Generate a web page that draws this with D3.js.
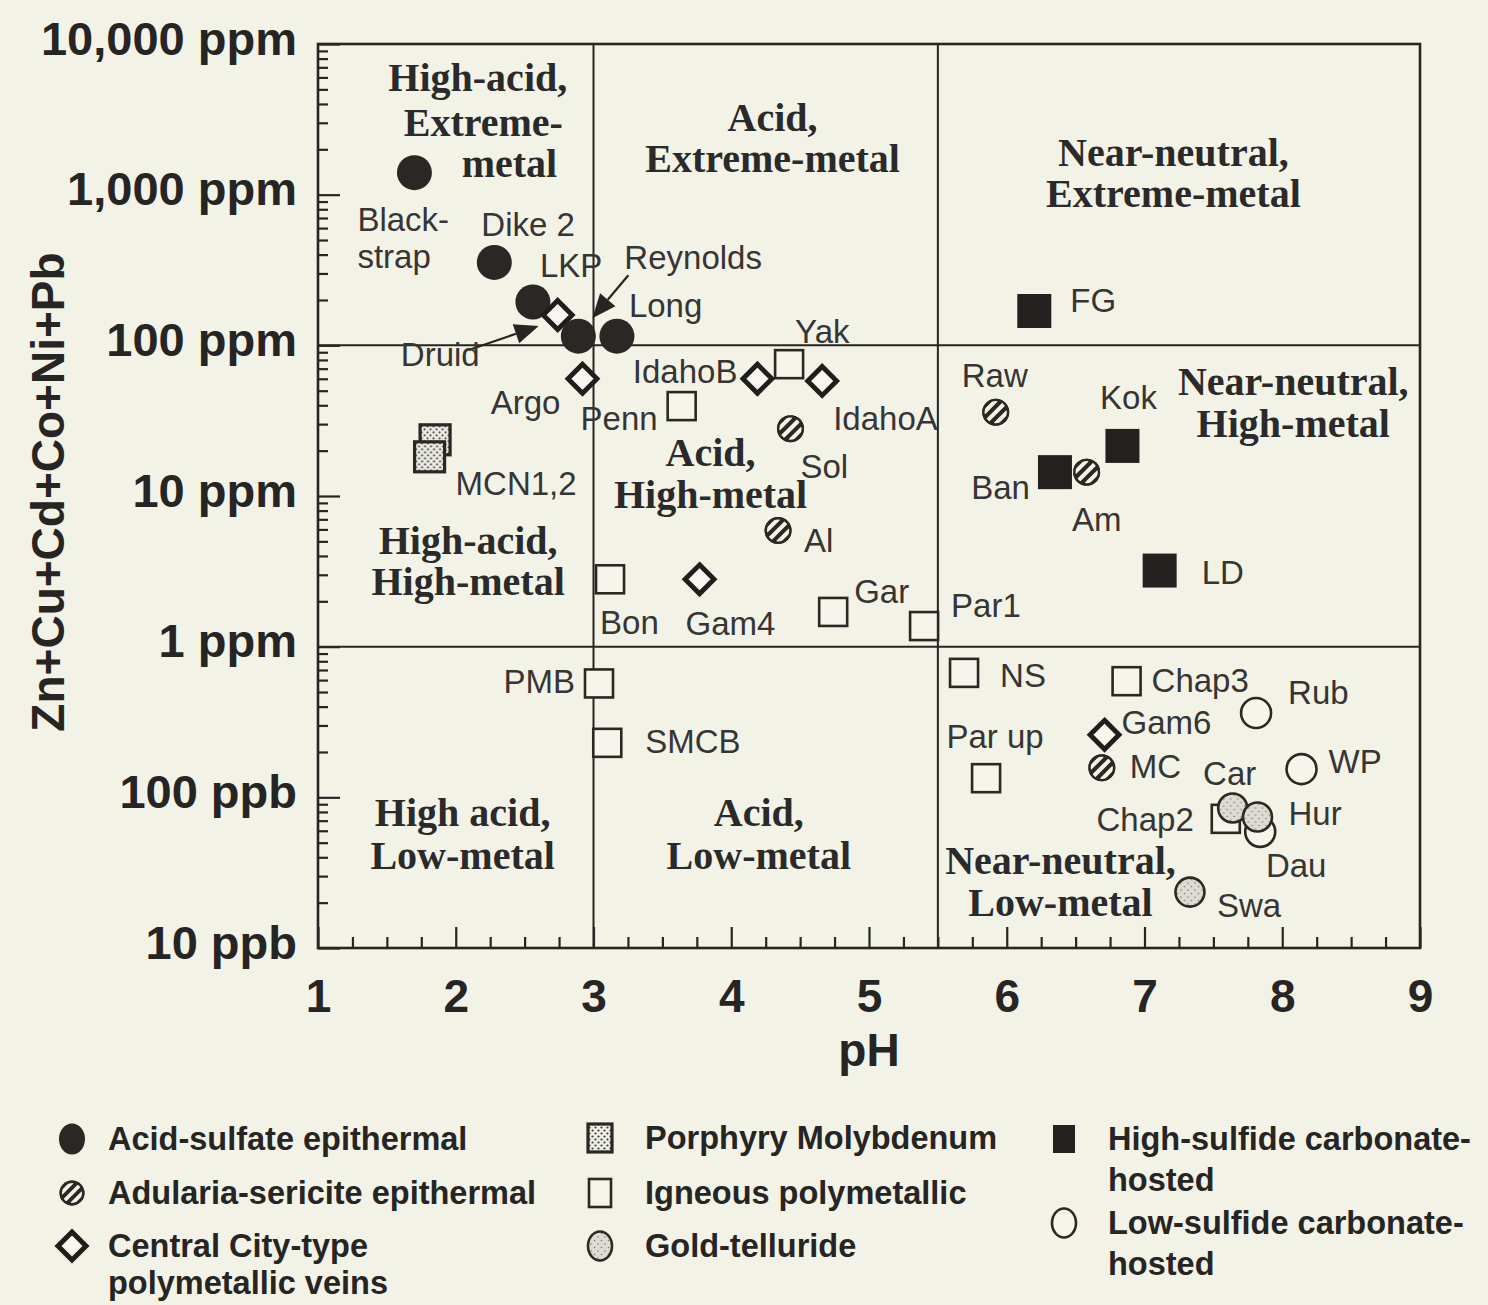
<!DOCTYPE html>
<html>
<head>
<meta charset="utf-8">
<script src="https://cdn.jsdelivr.net/npm/d3@7"></script>
<style>
  html, body { margin: 0; padding: 0; background: #f3f2e6; }
  svg { display: block; }
</style>
</head>
<body>
<svg id="chart" width="1488" height="1305"></svg>
<script>
// ---- Sample sites by deposit type: site name, pH, dissolved Zn+Cu+Cd+Co+Ni+Pb (ppm) ----
const acidSulfate = [
  { site: "Blackstrap", pH: 1.70, ppm: 1400 },
  { site: "Dike 2",     pH: 2.28, ppm: 355 },
  { site: "LKP",        pH: 2.56, ppm: 194 },
  { site: "Reynolds",   pH: 2.89, ppm: 115 },
  { site: "Long",       pH: 3.17, ppm: 115 }
];
const adulariaSericite = [
  { site: "Sol", pH: 4.43, ppm: 28 },
  { site: "Al",  pH: 4.34, ppm: 5.9 },
  { site: "Raw", pH: 5.92, ppm: 36 },
  { site: "Am",  pH: 6.58, ppm: 14.4 },
  { site: "MC",  pH: 6.69, ppm: 0.157 }
];
const centralCity = [
  { site: "Druid",  pH: 2.74, ppm: 159 },
  { site: "Argo",   pH: 2.92, ppm: 60 },
  { site: "IdahoB", pH: 4.19, ppm: 60 },
  { site: "IdahoA", pH: 4.66, ppm: 58 },
  { site: "Gam4",   pH: 3.77, ppm: 2.8 },
  { site: "Gam6",   pH: 6.71, ppm: 0.26 }
];
const porphyryMo = [
  { site: "MCN1", pH: 1.85, ppm: 23.6 },
  { site: "MCN2", pH: 1.81, ppm: 18.2 }
];
const igneousPoly = [
  { site: "Yak",    pH: 4.42, ppm: 75 },
  { site: "Penn",   pH: 3.64, ppm: 39.5 },
  { site: "Bon",    pH: 3.12, ppm: 2.8 },
  { site: "Gar",    pH: 4.74, ppm: 1.7 },
  { site: "Par1",   pH: 5.40, ppm: 1.37 },
  { site: "PMB",    pH: 3.04, ppm: 0.57 },
  { site: "SMCB",   pH: 3.10, ppm: 0.23 },
  { site: "NS",     pH: 5.69, ppm: 0.67 },
  { site: "Chap3",  pH: 6.87, ppm: 0.59 },
  { site: "Par up", pH: 5.85, ppm: 0.134 },
  { site: "Chap2",  pH: 7.59, ppm: 0.072 }
];
const goldTelluride = [
  { site: "Car", pH: 7.64, ppm: 0.085 },
  { site: "Hur", pH: 7.82, ppm: 0.074 },
  { site: "Swa", pH: 7.33, ppm: 0.0235 }
];
const highSulfideCarb = [
  { site: "FG",  pH: 6.20, ppm: 169 },
  { site: "Kok", pH: 6.84, ppm: 21.5 },
  { site: "Ban", pH: 6.35, ppm: 14.4 },
  { site: "LD",  pH: 7.11, ppm: 3.2 }
];
const lowSulfideCarb = [
  { site: "Rub", pH: 7.81, ppm: 0.363 },
  { site: "WP",  pH: 8.14, ppm: 0.154 },
  { site: "Dau", pH: 7.84, ppm: 0.059 }
];

// ---- Axis ticks and labels ----
const xTicks = [1, 2, 3, 4, 5, 6, 7, 8, 9];
const yDecades = [10000, 1000, 100, 10, 1, 0.1, 0.01];
const yTickLabels = ["10,000 ppm", "1,000 ppm", "100 ppm", "10 ppm", "1 ppm", "100 ppb", "10 ppb"];

// Field boundaries: pH 3 and 5.5, 1 ppm and 100 ppm
const pHBounds = [3, 5.5];
const metalBounds = [1, 100];

// Field names (one entry per text line, anchored in data space: pH, log10 ppm)
const zoneLines = [
  ["High-acid,", 2.16, 3.781], ["Extreme-", 2.20, 3.482], ["metal", 2.39, 3.210],
  ["Acid,", 4.30, 3.515], ["Extreme-metal", 4.30, 3.243],
  ["Near-neutral,", 7.21, 3.283], ["Extreme-metal", 7.21, 3.011],
  ["Near-neutral,", 8.08, 1.763], ["High-metal", 8.08, 1.485],
  ["Acid,", 3.85, 1.292], ["High-metal", 3.85, 1.013],
  ["High-acid,", 2.09, 0.708], ["High-metal", 2.09, 0.436],
  ["High acid,", 2.05, -1.097], ["Low-metal", 2.05, -1.383],
  ["Acid,", 4.20, -1.097], ["Low-metal", 4.20, -1.383],
  ["Near-neutral,", 6.39, -1.416], ["Low-metal", 6.39, -1.695]
];

// Site label placement relative to each symbol: [dx, dy, anchor, text lines]
const labelPlacement = {
  "Blackstrap": [-57, 47, "start", ["Black-", "strap"]],
  "Dike 2": [-13, -38, "start"],
  "LKP": [7, -37, "start"],
  "Reynolds": [46, -79, "start"],
  "Long": [12, -31, "start"],
  "Druid": [-78, 39, "end"],
  "Argo": [-22, 24, "end"],
  "Penn": [-24, 12, "end"],
  "IdahoB": [-20, -7, "end"],
  "Yak": [6, -33, "start"],
  "IdahoA": [11, 37, "start"],
  "Sol": [10, 38, "start"],
  "Al": [26, 10, "start"],
  "MCN2": [26, 27, "start", ["MCN1,2"]],
  "Bon": [-10, 43, "start"],
  "Gam4": [-14, 44, "start"],
  "Gar": [21, -20, "start"],
  "Par1": [27, -21, "start"],
  "PMB": [-24, -2, "end"],
  "SMCB": [38, -1, "start"],
  "FG": [36, -11, "start"],
  "Raw": [-1, -37, "middle"],
  "Kok": [6, -48, "middle"],
  "Ban": [-25, 15, "end"],
  "Am": [10, 47, "middle"],
  "LD": [42, 2, "start"],
  "NS": [36, 3, "start"],
  "Chap3": [25, -1, "start"],
  "Rub": [32, -21, "start"],
  "Gam6": [17, -12, "start"],
  "Par up": [9, -42, "middle"],
  "MC": [28, -1, "start"],
  "Car": [-3, -35, "middle"],
  "WP": [27, -8, "start"],
  "Chap2": [-32, 1, "end"],
  "Hur": [31, -4, "start"],
  "Dau": [36, 34, "middle"],
  "Swa": [27, 13, "start"]
};

// Leader arrows: [site, start dx, start dy, tip dx, tip dy] relative to the site symbol
const leaders = [
  ["Druid", -89, 35, -19, 11],
  ["Reynolds", 50, -61, 14, -18]
];

// ---- Drawing ----
const BG = "#f3f2e6";
const INK = "#262524";
const SANS = "'Liberation Sans', Arial, Helvetica, sans-serif";
const SERIF = "'Liberation Serif', 'Times New Roman', serif";

const svg = d3.select("#chart");
svg.append("rect").attr("width", 1488).attr("height", 1305).attr("fill", BG);

const x = d3.scaleLinear().domain([1, 9]).range([318, 1420]);
const y = d3.scaleLog().domain([0.01, 10000]).range([948, 44]);

const defs = svg.append("defs");
// stipple for gold-telluride
const dotsPat = defs.append("pattern").attr("id", "dotsLight")
  .attr("patternUnits", "userSpaceOnUse").attr("width", 7).attr("height", 7);
dotsPat.append("rect").attr("width", 7).attr("height", 7).attr("fill", "#dddcd3");
dotsPat.append("circle").attr("cx", 1.5).attr("cy", 1.5).attr("r", 0.8).attr("fill", "#7a7a75");
dotsPat.append("circle").attr("cx", 5).attr("cy", 5).attr("r", 0.8).attr("fill", "#7a7a75");
// denser stipple for porphyry Mo
const dotsPat2 = defs.append("pattern").attr("id", "dotsDense")
  .attr("patternUnits", "userSpaceOnUse").attr("width", 6).attr("height", 6);
dotsPat2.append("rect").attr("width", 6).attr("height", 6).attr("fill", "#efeee6");
dotsPat2.append("circle").attr("cx", 1.5).attr("cy", 1.5).attr("r", 1.1).attr("fill", "#3a3a38");
dotsPat2.append("circle").attr("cx", 4.5).attr("cy", 4.5).attr("r", 1.1).attr("fill", "#3a3a38");

const plot = svg.append("g");

// field boundaries
plot.selectAll("line.vb").data(pHBounds).join("line")
  .attr("x1", d => x(d)).attr("x2", d => x(d))
  .attr("y1", y(10000)).attr("y2", y(0.01))
  .attr("stroke", INK).attr("stroke-width", 2);
plot.selectAll("line.hb").data(metalBounds).join("line")
  .attr("x1", x(1)).attr("x2", x(9))
  .attr("y1", d => y(d)).attr("y2", d => y(d))
  .attr("stroke", INK).attr("stroke-width", 2);

// axes: ticks pointing into the plot
function styleAxis(g) {
  g.select(".domain").remove();
  g.selectAll(".tick line").attr("stroke", INK).attr("stroke-width", 2.2);
}
const yMinor = [];
for (let e = -2; e < 4; e++) for (let m = 2; m <= 9; m++) yMinor.push(m * Math.pow(10, e));
svg.append("g").attr("transform", `translate(${x(1)},0)`)
  .call(d3.axisRight(y).tickValues(yMinor).tickSize(10).tickFormat(""))
  .call(styleAxis);
svg.append("g").attr("transform", `translate(${x(1)},0)`)
  .call(d3.axisRight(y).tickValues(yDecades).tickSize(22).tickFormat(""))
  .call(styleAxis);
const yLab = svg.append("g").attr("transform", `translate(${x(1)},-5)`)
  .call(d3.axisLeft(y).tickValues(yDecades).tickSize(0).tickPadding(21)
    .tickFormat((d, i) => yTickLabels[i]));
yLab.select(".domain").remove();
yLab.selectAll("text").attr("font-family", SANS).attr("font-weight", "bold")
  .attr("font-size", 47).attr("fill", INK);

const xMinor = d3.range(1.25, 9, 0.25).filter(v => Math.abs(v - Math.round(v)) > 1e-6);
svg.append("g").attr("transform", `translate(0,${y(0.01)})`)
  .call(d3.axisTop(x).tickValues(xMinor).tickSize(11).tickFormat(""))
  .call(styleAxis);
svg.append("g").attr("transform", `translate(0,${y(0.01)})`)
  .call(d3.axisTop(x).tickValues(xTicks).tickSize(21).tickFormat(""))
  .call(styleAxis);
const xLab = svg.append("g").attr("transform", `translate(0,${y(0.01)})`)
  .call(d3.axisBottom(x).tickValues(xTicks).tickSize(0).tickPadding(31).tickFormat(d3.format("d")));
xLab.select(".domain").remove();
xLab.selectAll("text").attr("font-family", SANS).attr("font-weight", "bold")
  .attr("font-size", 46).attr("fill", INK);

// plot frame
svg.append("rect")
  .attr("x", x(1)).attr("y", y(10000))
  .attr("width", x(9) - x(1)).attr("height", y(0.01) - y(10000))
  .attr("fill", "none").attr("stroke", INK).attr("stroke-width", 2.6);

// axis titles
svg.append("text").attr("x", x(5)).attr("y", 1066)
  .attr("text-anchor", "middle").attr("font-family", SANS).attr("font-weight", "bold")
  .attr("font-size", 46).attr("fill", INK).text("pH");
svg.append("text").attr("transform", "translate(64,492) rotate(-90)")
  .attr("text-anchor", "middle").attr("font-family", SANS).attr("font-weight", "bold")
  .attr("font-size", 46).attr("fill", INK).text("Zn+Cu+Cd+Co+Ni+Pb");

// field names
plot.selectAll("text.zone").data(zoneLines).join("text")
  .attr("x", d => x(d[1])).attr("y", d => y(Math.pow(10, d[2])))
  .attr("dy", "0.35em").attr("text-anchor", "middle")
  .attr("font-family", SERIF).attr("font-weight", "bold").attr("font-size", 40)
  .attr("fill", "#2a2a2a").text(d => d[0]);

// ---- symbol painters (draw at origin inside a translated group) ----
const painters = {
  acid: (g, rx = 17.5, ry = 17.5) => g.append("ellipse").attr("rx", rx).attr("ry", ry).attr("fill", "#2a2724"),
  hatch: (g, r = 13.5) => {
    g.append("circle").attr("r", r).attr("fill", "#2a2724");
    const k = r * 0.6;
    [-k, 0, k].forEach(o => {
      const cx = o / Math.SQRT2, cy = o / Math.SQRT2;
      const L = Math.sqrt(Math.max(r * r - o * o, 0)) - 3;
      g.append("line")
        .attr("x1", cx - L / Math.SQRT2).attr("y1", cy + L / Math.SQRT2)
        .attr("x2", cx + L / Math.SQRT2).attr("y2", cy - L / Math.SQRT2)
        .attr("stroke", BG).attr("stroke-width", r * 0.3).attr("stroke-linecap", "round");
    });
    g.append("circle").attr("r", r - 1.2).attr("fill", "none").attr("stroke", "#2a2724").attr("stroke-width", 2.4);
  },
  diamond: (g, h = 14.5, sw = 4.8) => g.append("path").attr("d", `M0,${-h}L${h},0L0,${h}L${-h},0Z`)
    .attr("fill", "#f8f7ef").attr("stroke", "#1f1e1d").attr("stroke-width", sw).attr("stroke-linejoin", "miter"),
  porphyry: (g, w = 30, h = 30) => g.append("rect").attr("x", -w / 2).attr("y", -h / 2).attr("width", w).attr("height", h)
    .attr("fill", "url(#dotsDense)").attr("stroke", "#2a2724").attr("stroke-width", 3.2),
  igneous: (g, w = 28, h = 28) => g.append("rect").attr("x", -w / 2).attr("y", -h / 2).attr("width", w).attr("height", h)
    .attr("fill", "#f6f5ec").attr("stroke", "#2a2724").attr("stroke-width", 2.6),
  gold: (g, rx = 14.5, ry = 14.5) => g.append("ellipse").attr("rx", rx).attr("ry", ry).attr("fill", "url(#dotsLight)")
    .attr("stroke", "#2a2724").attr("stroke-width", 2.6),
  highSulf: (g, w = 34, h = 34) => g.append("rect").attr("x", -w / 2).attr("y", -h / 2).attr("width", w).attr("height", h)
    .attr("fill", "#232120"),
  lowSulf: (g, rx = 15, ry = 15) => g.append("ellipse").attr("rx", rx).attr("ry", ry).attr("fill", "#f6f5ec")
    .attr("stroke", "#2a2724").attr("stroke-width", 2.6)
};

// paint order keeps overlaps as printed
const layers = [
  [igneousPoly, "igneous"],
  [highSulfideCarb, "highSulf"],
  [porphyryMo, "porphyry"],
  [acidSulfate, "acid"],
  [lowSulfideCarb, "lowSulf"],
  [centralCity, "diamond"],
  [adulariaSericite, "hatch"],
  [goldTelluride, "gold"]
];
const siteIndex = {};
layers.forEach(([data, kind]) => {
  const sel = plot.append("g").selectAll("g").data(data).join("g")
    .attr("transform", d => `translate(${x(d.pH)},${y(d.ppm)})`);
  sel.each(function (d) { painters[kind](d3.select(this)); siteIndex[d.site] = d; });
});

// leader arrows
leaders.forEach(([site, sx, sy, tx, ty]) => {
  const d = siteIndex[site];
  const px = x(d.pH), py = y(d.ppm);
  const x1 = px + sx, y1 = py + sy, x2 = px + tx, y2 = py + ty;
  const ang = Math.atan2(y2 - y1, x2 - x1);
  const len = 24, half = 10;
  const bx = x2 - len * Math.cos(ang), by = y2 - len * Math.sin(ang);
  plot.append("line").attr("x1", x1).attr("y1", y1).attr("x2", bx).attr("y2", by)
    .attr("stroke", INK).attr("stroke-width", 2.2);
  plot.append("path")
    .attr("d", `M${x2},${y2}L${bx + half * Math.sin(ang)},${by - half * Math.cos(ang)}L${bx - half * Math.sin(ang)},${by + half * Math.cos(ang)}Z`)
    .attr("fill", INK);
});

// site labels
const allSites = layers.flatMap(([data]) => data);
allSites.forEach(d => {
  const p = labelPlacement[d.site];
  if (!p) return;
  const lines = p[3] || [d.site];
  lines.forEach((t, i) => {
    plot.append("text")
      .attr("x", x(d.pH) + p[0]).attr("y", y(d.ppm) + p[1] + i * 37)
      .attr("dy", "0.35em").attr("text-anchor", p[2])
      .attr("font-family", SANS).attr("font-size", 33).attr("fill", "#363534")
      .text(t);
  });
});

// ---- legend ----
const legendItems = [
  { kind: "acid", label: ["Acid-sulfate epithermal"], col: 0, row: 0 },
  { kind: "hatch", label: ["Adularia-sericite epithermal"], col: 0, row: 1 },
  { kind: "diamond", label: ["Central City-type", "polymetallic veins"], col: 0, row: 2 },
  { kind: "porphyry", label: ["Porphyry Molybdenum"], col: 1, row: 0 },
  { kind: "igneous", label: ["Igneous polymetallic"], col: 1, row: 1 },
  { kind: "gold", label: ["Gold-telluride"], col: 1, row: 2 },
  { kind: "highSulf", label: ["High-sulfide carbonate-", "hosted"], col: 2, row: 0 },
  { kind: "lowSulf", label: ["Low-sulfide carbonate-", "hosted"], col: 2, row: 1 }
];
const legendCols = [{ sx: 72, tx: 108, rows: [1139, 1193, 1246], gap: 37 },
                    { sx: 600, tx: 645, rows: [1138, 1193, 1246], gap: 37 },
                    { sx: 1064, tx: 1108, rows: [1139, 1223], gap: 41 }];
const legendSize = {
  acid: g => painters.acid(g, 13, 15.5),
  hatch: g => painters.hatch(g, 12.5),
  diamond: g => painters.diamond(g, 14, 5),
  porphyry: g => painters.porphyry(g, 24, 28),
  igneous: g => painters.igneous(g, 22, 28),
  gold: g => painters.gold(g, 12, 14.5),
  highSulf: g => painters.highSulf(g, 22, 28),
  lowSulf: g => painters.lowSulf(g, 12, 14.5)
};
const legend = svg.append("g");
legendItems.forEach(it => {
  const c = legendCols[it.col];
  const yy = c.rows[it.row];
  legendSize[it.kind](legend.append("g").attr("transform", `translate(${c.sx},${yy})`));
  it.label.forEach((t, i) => {
    legend.append("text").attr("x", c.tx).attr("y", yy + i * c.gap).attr("dy", "0.35em")
      .attr("font-family", SANS).attr("font-weight", "bold").attr("font-size", 32.5)
      .attr("fill", INK).text(t);
  });
});
</script>
</body>
</html>
